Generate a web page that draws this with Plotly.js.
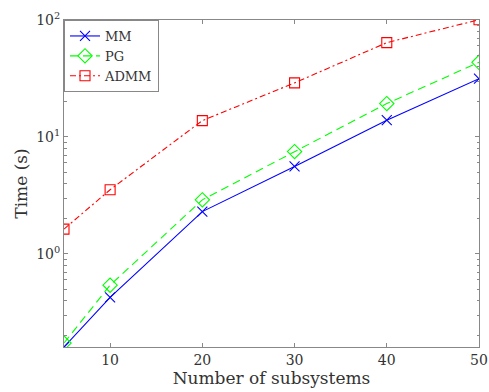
<!DOCTYPE html>
<html>
<head>
<meta charset="utf-8">
<script src="https://cdn.plot.ly/plotly-3.0.1.min.js"></script>
<style>html,body{margin:0;padding:0;background:#fff;}</style>
</head>
<body>
<div id="chart" style="width:489px;height:392px;"></div>
<script>
var subsystems = [5, 10, 20, 30, 40, 50];
var timeMM = [0.16, 0.425, 2.3, 5.6, 13.9, 31.5];
var timePG = [0.173, 0.54, 2.9, 7.5, 19.3, 43.5];
var timeADMM = [1.63, 3.54, 13.8, 29.0, 64.0, 100.5];
var yTickVals = [1, 10, 100];
var yTickText = ['10<sup>0</sup>', '10<sup>1</sup>', '10<sup>2</sup>'];
var yMinorVals = [0.2,0.3,0.4,0.5,0.6,0.7,0.8,0.9,2,3,4,5,6,7,8,9,20,30,40,50,60,70,80,90];
var xTickVals = [10, 20, 30, 40, 50];

var fontFam = 'DejaVu Serif, serif';
var axColor = '#888888';
var txtColor = '#333333';

var traces = [
  {x: subsystems, y: timeMM, name: 'MM', mode: 'lines+markers',
   line: {color: '#0000ff', width: 1.1},
   marker: {symbol: 'x-thin-open', size: 10, line: {color: '#0000ff', width: 1.1}, color: '#0000ff'}},
  {x: subsystems, y: timePG, name: 'PG', mode: 'lines+markers',
   line: {color: '#00ff00', width: 1.1, dash: '8px,5px'},
   marker: {symbol: 'diamond-open', size: 11, line: {color: '#00ff00', width: 1.1}, color: '#00ff00'}},
  {x: subsystems, y: timeADMM, name: 'ADMM', mode: 'lines+markers',
   line: {color: '#ff0000', width: 1.1, dash: '6px,3px,2px,3px'},
   marker: {symbol: 'square-open', size: 10, line: {color: '#ff0000', width: 1.1}, color: '#ff0000'}}
];

var layout = {
  width: 489, height: 392,
  margin: {l: 64, r: 10, t: 20, b: 45},
  paper_bgcolor: '#ffffff', plot_bgcolor: '#ffffff',
  font: {family: fontFam, color: txtColor, size: 14},
  showlegend: true,
  legend: {x: 0, y: 1, xanchor: 'left', yanchor: 'top', bgcolor: '#ffffff',
           bordercolor: axColor, borderwidth: 1, font: {family: fontFam, size: 13, color: txtColor},
           tracegroupgap: 0, itemwidth: 30},
  xaxis: {
    range: [5, 50], tickmode: 'array', tickvals: xTickVals,
    ticks: 'inside', ticklen: 4, tickcolor: axColor, tickwidth: 1,
    showline: true, linecolor: axColor, linewidth: 1, mirror: 'ticks',
    showgrid: false, zeroline: false,
    tickfont: {family: fontFam, size: 14, color: txtColor},
    title: {text: 'Number of subsystems', font: {family: fontFam, size: 17, color: txtColor}, standoff: 2}
  },
  yaxis: {
    type: 'log', range: [Math.log10(0.16), 2],
    tickmode: 'array', tickvals: yTickVals, ticktext: yTickText,
    ticks: 'inside', ticklen: 4, tickcolor: axColor, tickwidth: 1,
    showline: true, linecolor: axColor, linewidth: 1, mirror: 'ticks',
    showgrid: false, zeroline: false,
    tickfont: {family: fontFam, size: 14, color: txtColor},
    minor: {tickmode: 'array', tickvals: yMinorVals, ticks: 'inside', ticklen: 2.5, tickcolor: axColor, showgrid: false},
    title: {text: 'Time (s)', font: {family: fontFam, size: 17, color: txtColor}, standoff: 4}
  }
};

Plotly.newPlot('chart', traces, layout, {displayModeBar: false, staticPlot: true});
</script>
</body>
</html>
